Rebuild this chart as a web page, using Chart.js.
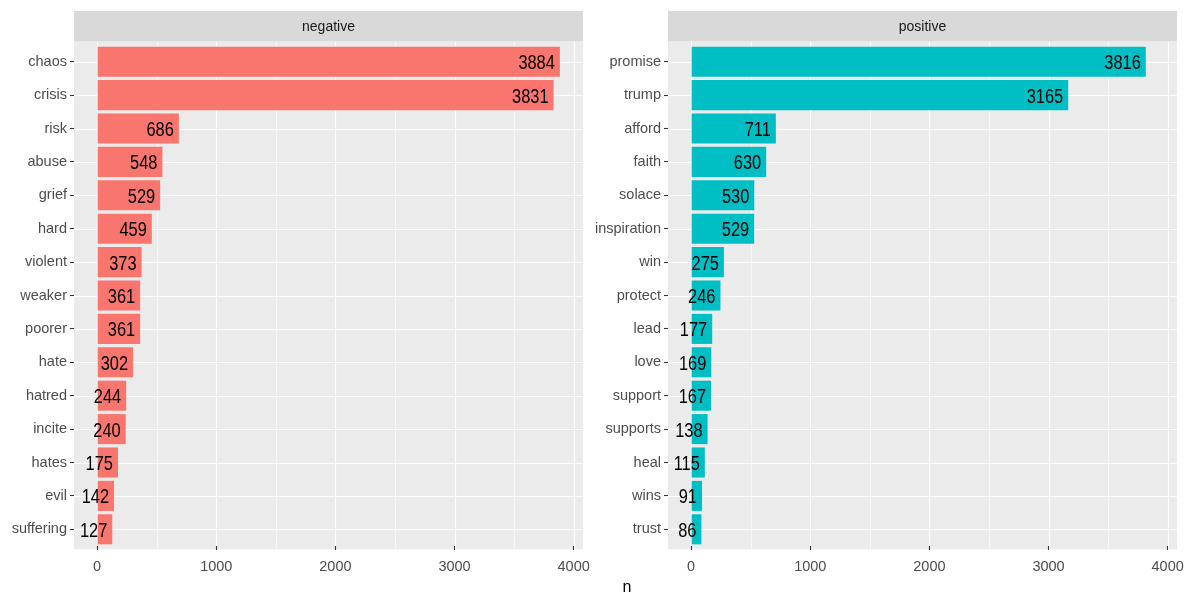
<!DOCTYPE html>
<html>
<head>
<meta charset="utf-8">
<script src="https://cdn.jsdelivr.net/npm/chart.js@4.4.0/dist/chart.umd.min.js"></script>
<style>
  body { margin: 0; background: #ffffff; }
  #wrap { position: relative; width: 1197px; height: 594px; overflow: hidden; }
  canvas { position: absolute; top: 0; }
  #ejeN {
    position: absolute; left: 0; width: 1254px; top: 578px;
    text-align: center; font: 16px "Liberation Sans", Arial, sans-serif; color: #000;
  }
</style>
</head>
<body>
<div id="wrap">
  <canvas id="graficoNegativo" width="590" height="594" style="left:0"></canvas>
  <canvas id="graficoPositivo" width="607" height="594" style="left:590px"></canvas>
  <div id="ejeN">n</div>
</div>
<script>
//---------------
// Datos
//---------------
const palabrasNeg = ['chaos', 'crisis', 'risk', 'abuse', 'grief', 'hard', 'violent', 'weaker', 'poorer', 'hate', 'hatred', 'incite', 'hates', 'evil', 'suffering'];
const conteoNeg = [3884, 3831, 686, 548, 529, 459, 373, 361, 361, 302, 244, 240, 175, 142, 127];

const palabrasPos = ['promise', 'trump', 'afford', 'faith', 'solace', 'inspiration', 'win', 'protect', 'lead', 'love', 'support', 'supports', 'heal', 'wins', 'trust'];
const conteoPos = [3816, 3165, 711, 630, 530, 529, 275, 246, 177, 169, 167, 138, 115, 91, 86];

const ticksX = [0, 1000, 2000, 3000, 4000];
const ticksMenores = [500, 1500, 2500, 3500];

// escala compartida con 5% de margen (como ggplot)
const maxN = Math.max(...conteoNeg, ...conteoPos);
const margen = maxN * 0.05;

const fuente = '"Liberation Sans", Arial, sans-serif';

//---------------
// Plugin: fondo del panel, grilla y franja
//---------------
const panelPlugin = {
  id: 'panel',
  beforeDraw(chart, args, opts) {
    const { ctx, chartArea, scales } = chart;
    const paso = (chartArea.bottom - chartArea.top) / chart.data.labels.length;
    const top = chartArea.top - 0.1 * paso;
    const bottom = chartArea.bottom + 0.1 * paso;

    ctx.save();
    // franja
    ctx.fillStyle = '#D9D9D9';
    ctx.fillRect(chartArea.left, 11, chartArea.right - chartArea.left, top - 11);
    ctx.fillStyle = '#1A1A1A';
    ctx.font = '14px ' + fuente;
    ctx.textAlign = 'center';
    ctx.textBaseline = 'middle';
    ctx.fillText(opts.titulo, (chartArea.left + chartArea.right) / 2, (11 + top) / 2 + 1);

    // fondo
    ctx.fillStyle = '#EBEBEB';
    ctx.fillRect(chartArea.left, top, chartArea.right - chartArea.left, bottom - top);

    ctx.strokeStyle = '#FFFFFF';
    // grilla menor
    ctx.lineWidth = 0.6;
    ticksMenores.forEach(v => {
      const x = Math.round(scales.x.getPixelForValue(v)) + 0.5;
      ctx.beginPath(); ctx.moveTo(x, top); ctx.lineTo(x, bottom); ctx.stroke();
    });
    // grilla mayor
    ctx.lineWidth = 1.2;
    ticksX.forEach(v => {
      const x = Math.round(scales.x.getPixelForValue(v)) + 0.5;
      ctx.beginPath(); ctx.moveTo(x, top); ctx.lineTo(x, bottom); ctx.stroke();
    });
    chart.data.labels.forEach((l, i) => {
      const y = Math.round(scales.y.getPixelForValue(i)) + 0.5;
      ctx.beginPath(); ctx.moveTo(chartArea.left, y); ctx.lineTo(chartArea.right, y); ctx.stroke();
    });
    ctx.restore();
  },
  afterDatasetsDraw(chart) {
    // etiquetas de valores (letra algo condensada, como en la referencia)
    const { ctx } = chart;
    const meta = chart.getDatasetMeta(0);
    const valores = chart.data.datasets[0].data;
    const escala = 0.82;
    ctx.save();
    ctx.fillStyle = '#000000';
    ctx.font = '20px ' + fuente;
    ctx.textAlign = 'right';
    ctx.textBaseline = 'middle';
    meta.data.forEach((bar, i) => {
      ctx.save();
      ctx.translate(bar.x - 5, bar.y + 2);
      ctx.scale(escala, 1);
      ctx.fillText(String(valores[i]), 0, 0);
      ctx.restore();
    });
    ctx.restore();
  }
};

//---------------
// Crear gráfico
//---------------
function crearGrafico(id, titulo, palabras, conteo, color, anchoEjeY, padDerecha) {
  return new Chart(document.getElementById(id), {
    type: 'bar',
    data: {
      labels: palabras,
      datasets: [{
        data: conteo,
        backgroundColor: color,
        borderWidth: 0,
        categoryPercentage: 1,
        barPercentage: 0.9
      }]
    },
    options: {
      indexAxis: 'y',
      responsive: false,
      animation: false,
      devicePixelRatio: 1,
      layout: { padding: { top: 45, right: padDerecha, bottom: 0, left: 0 } },
      plugins: {
        legend: { display: false },
        tooltip: { enabled: false },
        panel: { titulo: titulo }
      },
      scales: {
        x: {
          type: 'linear',
          min: -margen,
          max: maxN + margen,
          afterBuildTicks: (scale) => { scale.ticks = ticksX.map(v => ({ value: v })); },
          afterFit: (scale) => {
            scale.height = 48;
            scale.paddingLeft = 0;
            scale.paddingRight = 0;
          },
          grid: { drawOnChartArea: false, drawTicks: true, tickLength: 4, tickColor: '#333333', tickWidth: 1.1 },
          border: { display: false },
          ticks: {
            color: '#4D4D4D', font: { family: fuente, size: 14.5 }, padding: 8, maxRotation: 0,
            callback: (v) => String(v)
          }
        },
        y: {
          afterFit: (scale) => {
            scale.width = anchoEjeY;
            scale.paddingTop = 0;
            scale.paddingBottom = 0;
          },
          grid: { offset: false, drawOnChartArea: false, drawTicks: true, tickLength: 4, tickColor: '#333333', tickWidth: 1.1 },
          border: { display: false },
          ticks: { color: '#4D4D4D', font: { family: fuente, size: 14.5 }, padding: 3, autoSkip: false }
        }
      }
    },
    plugins: [panelPlugin]
  });
}

const graficoNegativo = crearGrafico('graficoNegativo', 'negative', palabrasNeg, conteoNeg, '#F8766D', 74, 7);
const graficoPositivo = crearGrafico('graficoPositivo', 'positive', palabrasPos, conteoPos, '#00BFC4', 78, 20);
</script>
</body>
</html>
